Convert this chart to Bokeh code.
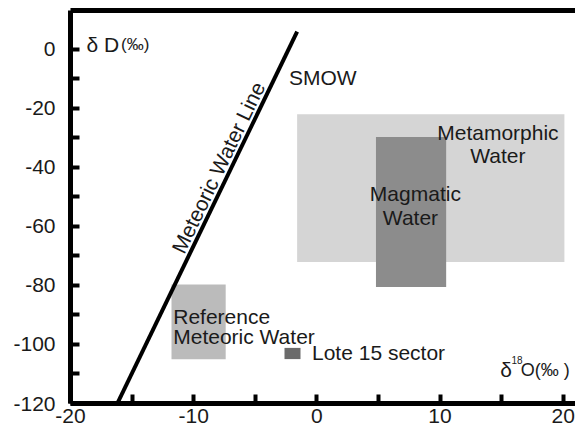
import numpy as np
from bokeh.plotting import figure
from bokeh.models import LinearAxis, FixedTicker, Range1d, Legend, LegendItem, ColumnDataSource
from bokeh.embed import file_html
from bokeh.resources import INLINE
from bokeh.core.properties import value

# ---- data ----
x_ticks = [-20, -10, 0, 10, 20]
x_tick_labels = ["-20", "-10", "0", "10", "20"]
x_minor = [-15, -5, 5, 15]
y_ticks = [-120, -100, -80, -60, -40, -20, 0]
y_tick_labels = ["-120", "-100", "-80", "-60", "-40", "-20", "0"]
y_minor = [-110, -90, -70, -50, -30, -10]

mwl_x = [-16.2, -1.6]
mwl_y = [-120, 6]

box_names = ["Metamorphic Water", "Magmatic Water", "Reference Meteoric Water"]
box_left = [-1.6, 4.8, -11.8]
box_right = [20.1, 10.5, -7.4]
box_bottom = [-72.0, -80.5, -105.0]
box_top = [-22.0, -29.7, -79.7]
box_colors = ["#d5d5d5", "#8c8c8c", "#bbbbbb"]

legend_label = "Lote 15 sector"
legend_color = "#6b6b6b"

center_text = ["Metamorphic", "Water", "Magmatic", "Water"]
center_x = [14.7, 14.7, 8.0, 7.6]
center_y = [-28.1, -35.9, -48.8, -57.0]

left_text = ["SMOW", "Reference", "Meteoric Water"]
left_x = [-2.27, -11.66, -11.66]
left_y = [-9.5, -90.5, -97.3]

FONT = value("Liberation Sans")
TXT = "#1a1a1a"

p = figure(width=575, height=433, x_range=Range1d(-20, 21.0), y_range=Range1d(-120, 13.2),
           output_backend="svg", toolbar_location=None, x_axis_type=None, y_axis_type=None,
           min_border_left=70, min_border_right=0, min_border_top=10, min_border_bottom=30)
p.outline_line_color = None
p.background_fill_color = "white"

AX = dict(axis_line_width=5, axis_line_color="black",
          major_tick_in=9, major_tick_out=0, major_tick_line_width=4, major_tick_line_color="black",
          minor_tick_in=9, minor_tick_out=0, minor_tick_line_width=4, minor_tick_line_color="black",
          major_label_text_font="Liberation Sans", major_label_text_font_size="21px",
          major_label_text_color=TXT)

xa = LinearAxis(ticker=FixedTicker(ticks=x_ticks, minor_ticks=x_minor),
                major_label_overrides=dict(zip(x_ticks, x_tick_labels)),
                major_label_standoff=5, **AX)
p.add_layout(xa, "below")

ya = LinearAxis(ticker=FixedTicker(ticks=y_ticks, minor_ticks=y_minor),
                major_label_overrides=dict(zip(y_ticks, y_tick_labels)),
                major_label_standoff=15, **AX)
p.add_layout(ya, "left")

ta = LinearAxis(ticker=FixedTicker(ticks=[], minor_ticks=[]), major_label_text_font_size="0px",
                major_tick_in=0, major_tick_out=0, minor_tick_in=0, minor_tick_out=0,
                major_label_standoff=0, axis_line_width=5, axis_line_color="black")
p.add_layout(ta, "above")

# boxes
src = ColumnDataSource(dict(left=box_left, right=box_right, bottom=box_bottom, top=box_top,
                            color=box_colors, name=box_names))
p.quad(left="left", right="right", bottom="bottom", top="top", fill_color="color",
       line_color=None, source=src)

# meteoric water line
p.line(mwl_x, mwl_y, line_width=4, line_color="black")

# legend (renderer with no visible data)
lr = p.quad(left=[np.nan], right=[np.nan], top=[np.nan], bottom=[np.nan],
            fill_color=legend_color, line_color=None)
legend = Legend(items=[LegendItem(label=legend_label, renderers=[lr])], location=(212, 38),
                glyph_width=20, glyph_height=14, label_standoff=10, label_height=14,
                label_text_font="Liberation Sans", label_text_font_size="21px",
                label_text_color=TXT, padding=0, margin=0, spacing=0,
                border_line_color=None, background_fill_alpha=0)
p.add_layout(legend)

# texts
p.text(center_x, center_y, text=center_text, text_align="center", text_baseline="alphabetic",
       text_font=FONT, text_font_size="21px", text_color=TXT)
p.text(left_x, left_y, text=left_text, text_align="left", text_baseline="alphabetic",
       text_font=FONT, text_font_size="21px", text_color=TXT)

p.text([-8.0], [-40.0], text=["Meteoric Water Line"], angle=64.2, angle_units="deg",
       text_align="center", text_baseline="alphabetic", text_font=FONT,
       text_font_size="21px", text_color=TXT)

# axis titles
p.text([-18.7], [1.7], text=["δ D"], text_align="left", text_baseline="alphabetic",
       text_font=FONT, text_font_size="21px", text_color=TXT)
p.text([-15.9], [1.7], text=["(‰)"], text_align="left", text_baseline="alphabetic",
       text_font=FONT, text_font_size="17px", text_color=TXT)

p.text([14.9], [-108.5], text=["δ"], text_align="left", text_baseline="alphabetic",
       text_font=FONT, text_font_size="21px", text_color=TXT)
p.text([15.8], [-105.4], text=["18"], text_align="left", text_baseline="alphabetic",
       text_font=FONT, text_font_size="10px", text_color=TXT)
p.text([16.55], [-108.5], text=["O(‰ )"], text_align="left", text_baseline="alphabetic",
       text_font=FONT, text_font_size="18px", text_color=TXT)

open("out.html", "w").write(file_html(p, INLINE))
